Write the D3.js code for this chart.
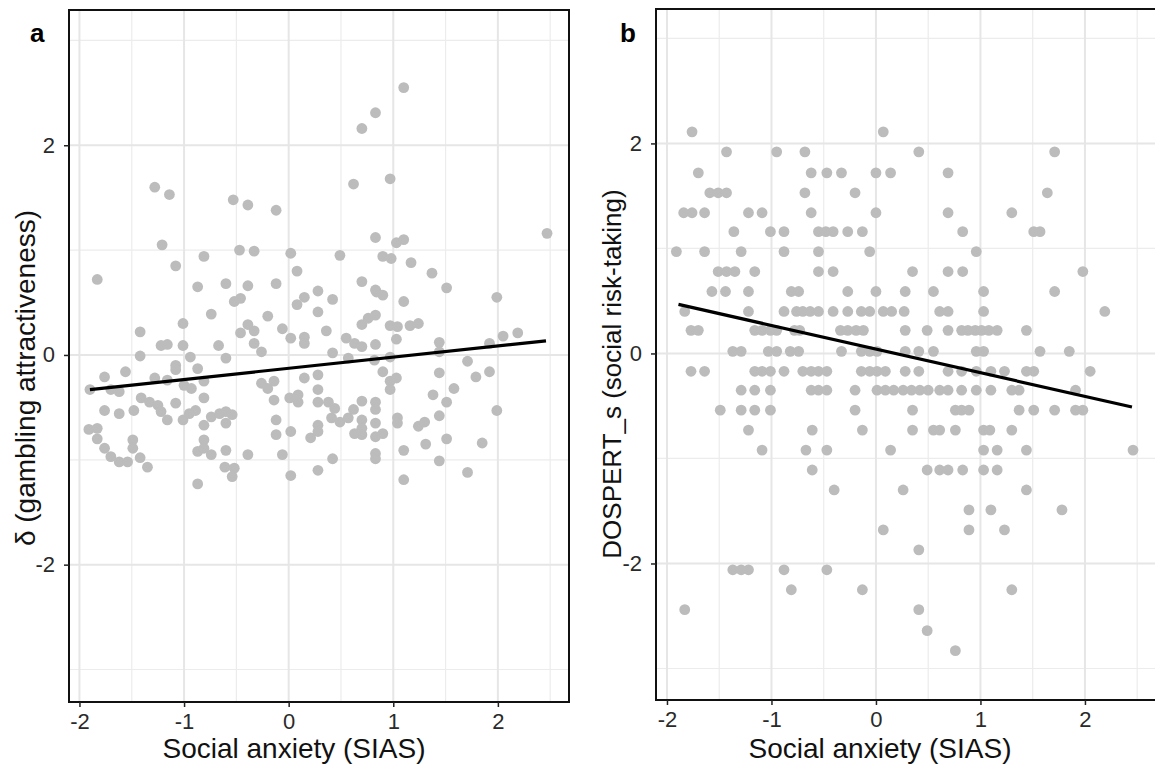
<!DOCTYPE html>
<html>
<head>
<meta charset="utf-8">
<script src="https://cdn.jsdelivr.net/npm/d3@7"></script>
<style>
  body { margin: 0; background: #fff; }
  svg text { font-family: "Liberation Sans", Arial, sans-serif; }
</style>
</head>
<body>
<svg id="chart" width="1155" height="766"></svg>
<script>
// tick / grid values
const xTicks = [-2, -1, 0, 1, 2];
const yTicks = [-2, 0, 2];
const xGridMinor = [-1.5, -0.5, 0.5, 1.5, 2.5];
const yGridMinor = [-3, -1, 1, 3];

// panel a: social anxiety vs gambling attractiveness (x, y)
const pointsA = [
  [-1.28,1.60],[-1.14,1.53],[-1.21,1.05],[-1.08,0.85],[-1.83,0.72],[-0.81,0.94],[-0.87,0.65],[-0.60,0.68],
  [-0.53,1.48],[-0.39,1.43],[-0.12,1.38],[-0.47,1.00],[-0.33,0.99],[-0.39,0.66],[-0.12,0.68],[0.02,0.97],
  [0.08,0.80],[0.28,0.61],
  [1.10,2.55],[0.83,2.31],[0.70,2.16],[0.62,1.63],[0.97,1.68],[0.83,1.12],[1.03,1.07],[1.10,1.10],
  [0.49,0.95],[0.90,0.94],[0.98,0.92],[1.17,0.88],[1.37,0.78],[2.47,1.16],[0.70,0.70],[0.83,0.62],[1.51,0.64],
  [-0.52,0.51],[-0.46,0.54],[-0.74,0.39],[-1.01,0.30],[-1.42,0.22],[-0.39,0.29],[-0.33,0.23],[-0.20,0.37],
  [0.08,0.48],[0.15,0.55],[0.28,0.41],[-0.06,0.25],[0.02,0.16],[0.15,0.17],[0.15,0.11],[-1.22,0.09],
  [-1.16,0.10],[-1.01,0.09],[-0.67,0.09],[-0.46,0.21],[-0.33,0.11],[-0.26,0.03],[-1.42,-0.01],[-0.94,-0.02],
  [-0.60,-0.03],[-1.08,-0.10],[-1.08,-0.14],[-0.87,-0.13],[-1.56,-0.16],[-1.76,-0.21],[-1.28,-0.22],[-1.16,-0.24],
  [-1.90,-0.33],[-1.70,-0.33],[-1.62,-0.35],[-1.00,-0.29],[-0.93,-0.32],[-0.81,-0.25],[-0.81,-0.41],[-0.26,-0.27],
  [-0.20,-0.32],[-0.14,-0.25],[-0.14,-0.43],[0.01,-0.41],[0.09,-0.45],[0.09,-0.38],[0.15,-0.22],[0.28,-0.19],
  [0.28,-0.33],[0.28,-0.45],[-1.41,-0.41],[-1.33,-0.45],[-1.25,-0.48],[-1.22,-0.54],[-1.08,-0.46],[-1.76,-0.53],
  [-1.62,-0.56],[-1.48,-0.53],[-1.16,-0.62],[-1.01,-0.62],[-0.95,-0.56],[-0.89,-0.53],[-0.74,-0.59],[-0.66,-0.56],
  [-0.60,-0.54],[-0.54,-0.57],[-0.81,-0.67],[-0.60,-0.65],[-0.12,-0.62],[0.28,-0.67],[0.28,-0.73],[-1.91,-0.71],
  [-1.83,-0.70],[-1.83,-0.80],[-1.76,-0.89],[-1.70,-0.97],[-1.62,-1.02],[-1.54,-1.02],[-1.49,-0.81],[-1.49,-0.89],
  [-1.42,-0.98],[-1.35,-1.07],[-0.81,-0.81],[-0.87,-0.92],[-0.81,-0.89],[-0.74,-0.95],[-0.60,-0.91],[-0.39,-0.95],
  [-0.12,-0.76],[-0.06,-0.95],[0.02,-0.73],[0.21,-0.79],[-0.61,-1.07],[-0.52,-1.08],[-0.54,-1.16],[0.02,-1.15],
  [0.28,-1.10],[-0.87,-1.23],
  [0.42,0.53],[0.84,0.60],[0.90,0.57],[1.10,0.51],[1.99,0.55],[0.70,0.29],[0.76,0.35],[0.83,0.38],[0.97,0.28],
  [1.04,0.27],[1.16,0.28],[1.24,0.30],[0.36,0.23],[0.55,0.16],[0.63,0.11],[0.70,0.08],[0.83,0.10],[1.03,0.15],
  [1.44,0.12],[1.44,0.03],[1.92,0.11],[2.05,0.18],[2.19,0.21],[0.42,0.02],[0.57,-0.03],[0.82,-0.05],[0.97,-0.02],
  [1.71,-0.06],[0.90,-0.16],[1.44,-0.17],[1.79,-0.21],[1.92,-0.16],[0.97,-0.25],[1.03,-0.22],[0.97,-0.33],
  [1.58,-0.32],[1.38,-0.38],[1.51,-0.45],[1.99,-0.53],[0.70,-0.44],[0.83,-0.45],[0.83,-0.52],[0.38,-0.45],
  [0.44,-0.51],[0.62,-0.52],[0.41,-0.60],[0.49,-0.64],[0.57,-0.60],[0.70,-0.62],[0.70,-0.70],[0.63,-0.75],
  [0.70,-0.76],[0.83,-0.65],[1.04,-0.60],[1.04,-0.65],[1.24,-0.68],[1.30,-0.64],[1.44,-0.58],[0.83,-0.78],
  [0.90,-0.75],[1.31,-0.85],[1.51,-0.80],[1.85,-0.84],[0.42,-0.99],[0.83,-0.94],[0.83,-0.99],[1.10,-0.91],
  [1.44,-1.01],[1.71,-1.12],[1.10,-1.19]
];
const fitA = [[-1.90, -0.33], [2.46, 0.135]];

// panel b: social anxiety vs DOSPERT social risk-taking (x, y)
const pointsB = [
  [-1.76,2.11],[0.07,2.11],
  [-1.43,1.92],[-0.95,1.92],[-0.68,1.92],[0.41,1.92],[1.71,1.92],
  [-1.70,1.72],[-0.62,1.72],[-0.47,1.72],[-0.33,1.72],[0.00,1.72],[0.14,1.72],[0.69,1.72],
  [-1.59,1.53],[-1.51,1.53],[-1.43,1.53],[-0.68,1.53],[-0.20,1.53],[1.64,1.53],
  [-1.84,1.34],[-1.76,1.34],[-1.64,1.34],[-1.22,1.34],[-1.09,1.34],[-0.62,1.34],[0.00,1.34],[0.69,1.34],[1.30,1.34],
  [-1.36,1.16],[-1.01,1.16],[-0.88,1.16],[-0.55,1.16],[-0.48,1.16],[-0.41,1.16],[-0.27,1.16],[-0.13,1.16],
  [0.83,1.16],[1.51,1.16],[1.57,1.16],
  [-1.91,0.97],[-1.64,0.97],[-1.29,0.97],[-0.88,0.97],[-0.55,0.97],[-0.06,0.97],[0.96,0.97],
  [-1.51,0.78],[-1.43,0.78],[-1.35,0.78],[-1.16,0.78],[-0.55,0.78],[-0.41,0.78],[0.35,0.78],[0.69,0.78],
  [0.83,0.78],[1.98,0.78],
  [-1.57,0.59],[-1.44,0.59],[-1.22,0.59],[-0.81,0.59],[-0.74,0.59],[-0.27,0.59],[0.00,0.59],[0.28,0.59],
  [0.55,0.59],[1.03,0.59],[1.71,0.59],
  [-1.83,0.40],[-1.22,0.40],[-0.88,0.40],[-0.76,0.40],[-0.70,0.40],[-0.63,0.40],[-0.55,0.40],[-0.41,0.40],
  [-0.27,0.40],[-0.14,0.40],[-0.06,0.40],[0.07,0.40],[0.15,0.40],[0.27,0.40],[0.61,0.40],[0.69,0.40],
  [1.03,0.40],[2.19,0.40],
  [-1.77,0.22],[-1.70,0.22],[-1.16,0.22],[-1.09,0.22],[-1.01,0.22],[-0.95,0.22],[-0.78,0.22],[-0.73,0.22],
  [-0.34,0.22],[-0.27,0.22],[-0.19,0.22],[-0.12,0.22],[0.28,0.22],[0.49,0.22],[0.69,0.22],[0.82,0.22],
  [0.88,0.22],[0.95,0.22],[1.01,0.22],[1.08,0.22],[1.16,0.22],[1.44,0.22],
  [-1.37,0.02],[-1.29,0.02],[-1.03,0.02],[-0.95,0.02],[-0.82,0.02],[-0.74,0.02],[-0.33,0.02],[-0.14,0.02],
  [-0.06,0.02],[0.01,0.02],[0.28,0.02],[0.41,0.02],[0.55,0.02],[0.96,0.02],[1.03,0.02],[1.57,0.02],[1.85,0.02],
  [-1.77,-0.17],[-1.64,-0.17],[-1.16,-0.17],[-1.09,-0.17],[-1.01,-0.17],[-0.88,-0.17],[-0.70,-0.17],[-0.62,-0.17],
  [-0.55,-0.17],[-0.47,-0.17],[-0.14,-0.17],[-0.06,-0.17],[0.01,-0.17],[0.09,-0.17],[0.28,-0.17],[0.41,-0.17],
  [0.69,-0.17],[0.82,-0.17],[0.96,-0.17],[1.10,-0.17],[1.23,-0.17],[1.44,-0.17],[1.51,-0.17],[2.05,-0.17],
  [-1.29,-0.35],[-1.16,-0.35],[-1.01,-0.35],[-0.62,-0.35],[-0.55,-0.35],[-0.47,-0.35],[-0.20,-0.35],[0.01,-0.35],
  [0.09,-0.35],[0.17,-0.35],[0.26,-0.35],[0.34,-0.35],[0.42,-0.35],[0.50,-0.35],[0.61,-0.35],[0.69,-0.35],
  [0.82,-0.35],[0.96,-0.35],[1.10,-0.35],[1.30,-0.35],[1.37,-0.35],[1.91,-0.35],
  [-1.49,-0.54],[-1.29,-0.54],[-1.16,-0.54],[-1.01,-0.54],[-0.20,-0.54],[0.35,-0.54],[0.76,-0.54],[0.82,-0.54],
  [0.89,-0.54],[1.37,-0.54],[1.51,-0.54],[1.71,-0.54],[1.91,-0.54],[1.98,-0.54],
  [-1.22,-0.73],[-0.61,-0.73],[-0.13,-0.73],[0.35,-0.73],[0.55,-0.73],[0.61,-0.73],[0.76,-0.73],[1.03,-0.73],
  [1.09,-0.73],[1.30,-0.73],
  [-1.09,-0.92],[-0.67,-0.92],[-0.47,-0.92],[0.14,-0.92],[1.03,-0.92],[1.16,-0.92],[1.44,-0.92],[2.46,-0.92],
  [-0.61,-1.11],[0.49,-1.11],[0.61,-1.11],[0.69,-1.11],[0.83,-1.11],[1.03,-1.11],[1.16,-1.11],
  [-0.40,-1.30],[0.26,-1.30],[1.44,-1.30],
  [0.89,-1.49],[1.10,-1.49],[1.78,-1.49],
  [0.07,-1.68],[0.89,-1.68],[1.23,-1.68],
  [0.41,-1.87],
  [-1.37,-2.06],[-1.29,-2.06],[-1.22,-2.06],[-0.88,-2.06],[-0.47,-2.06],
  [-0.81,-2.25],[-0.13,-2.25],[1.30,-2.25],
  [-1.83,-2.44],[0.41,-2.44],
  [0.49,-2.64],
  [0.76,-2.83]
];
const fitB = [[-1.89, 0.467], [2.45, -0.51]];

const svg = d3.select("#chart");
svg.append("rect").attr("width", 1155).attr("height", 766).attr("fill", "#fff");

const panels = [
  {label: "a", ytitle: "δ (gambling attractiveness)", points: pointsA, fit: fitA,
   left: 69, right: 569, top: 10, bottom: 702, xdom: [-2.10, 2.68], ydom: [-3.31, 3.29],
   labelX: 30, ytitleX: 25, ytitleY: 378, ytitleSize: 28, xtitleX: 294},
  {label: "b", ytitle: "DOSPERT_s (social risk-taking)", points: pointsB, fit: fitB,
   left: 656, right: 1156, top: 9, bottom: 700, xdom: [-2.105, 2.68], ydom: [-3.30, 3.28],
   labelX: 620, ytitleX: 612, ytitleY: 374, ytitleSize: 26, xtitleX: 880}
];

panels.forEach(p => {
  const x = d3.scaleLinear().domain(p.xdom).range([p.left, p.right]);
  const y = d3.scaleLinear().domain(p.ydom).range([p.bottom, p.top]);
  const g = svg.append("g");

  // grid lines
  g.selectAll(".vminor").data(xGridMinor).join("line")
    .attr("x1", d => x(d)).attr("x2", d => x(d))
    .attr("y1", p.top).attr("y2", p.bottom)
    .attr("stroke", "#ececec").attr("stroke-width", 1.2);
  g.selectAll(".hminor").data(yGridMinor).join("line")
    .attr("y1", d => y(d)).attr("y2", d => y(d))
    .attr("x1", p.left).attr("x2", p.right)
    .attr("stroke", "#ececec").attr("stroke-width", 1.2);
  g.selectAll(".vmajor").data(xTicks).join("line")
    .attr("x1", d => x(d)).attr("x2", d => x(d))
    .attr("y1", p.top).attr("y2", p.bottom)
    .attr("stroke", "#e6e6e6").attr("stroke-width", 2);
  g.selectAll(".hmajor").data(yTicks).join("line")
    .attr("y1", d => y(d)).attr("y2", d => y(d))
    .attr("x1", p.left).attr("x2", p.right)
    .attr("stroke", "#e6e6e6").attr("stroke-width", 2);

  // points
  g.append("g").selectAll("circle").data(p.points).join("circle")
    .attr("cx", d => x(d[0])).attr("cy", d => y(d[1]))
    .attr("r", 5.4).attr("fill", "#bcbcbc");

  // fit line
  g.append("line")
    .attr("x1", x(p.fit[0][0])).attr("y1", y(p.fit[0][1]))
    .attr("x2", x(p.fit[1][0])).attr("y2", y(p.fit[1][1]))
    .attr("stroke", "#000").attr("stroke-width", 3.2);

  // border
  g.append("rect")
    .attr("x", p.left).attr("y", p.top)
    .attr("width", p.right - p.left).attr("height", p.bottom - p.top)
    .attr("fill", "none").attr("stroke", "#111").attr("stroke-width", 2);

  // axes
  const xa = g.append("g").attr("transform", `translate(0,${p.bottom})`)
    .call(d3.axisBottom(x).tickValues(xTicks).tickSize(5).tickPadding(6).tickFormat(d3.format("d")));
  const ya = g.append("g").attr("transform", `translate(${p.left},0)`)
    .call(d3.axisLeft(y).tickValues(yTicks).tickSize(5).tickPadding(9).tickFormat(d3.format("d")));
  [xa, ya].forEach(a => {
    a.select(".domain").remove();
    a.selectAll("line").attr("stroke", "#222").attr("stroke-width", 1.5);
    a.selectAll("text").attr("fill", "#2a2a2a").style("font-size", "22px")
      .text(d => d < 0 ? "-" + Math.abs(d) : d);
  });

  // titles
  svg.append("text").attr("x", p.xtitleX).attr("y", 758)
    .attr("text-anchor", "middle").style("font-size", "28px").attr("fill", "#111")
    .text("Social anxiety (SIAS)");
  svg.append("text")
    .attr("transform", `translate(${p.ytitleX},${p.ytitleY}) rotate(-90)`)
    .attr("text-anchor", "middle").attr("dy", "0.35em")
    .style("font-size", p.ytitleSize + "px").attr("fill", "#111")
    .text(p.ytitle);
  svg.append("text").attr("x", p.labelX).attr("y", 42)
    .style("font-size", "26px").style("font-weight", "bold")
    .text(p.label);
});
</script>
</body>
</html>
